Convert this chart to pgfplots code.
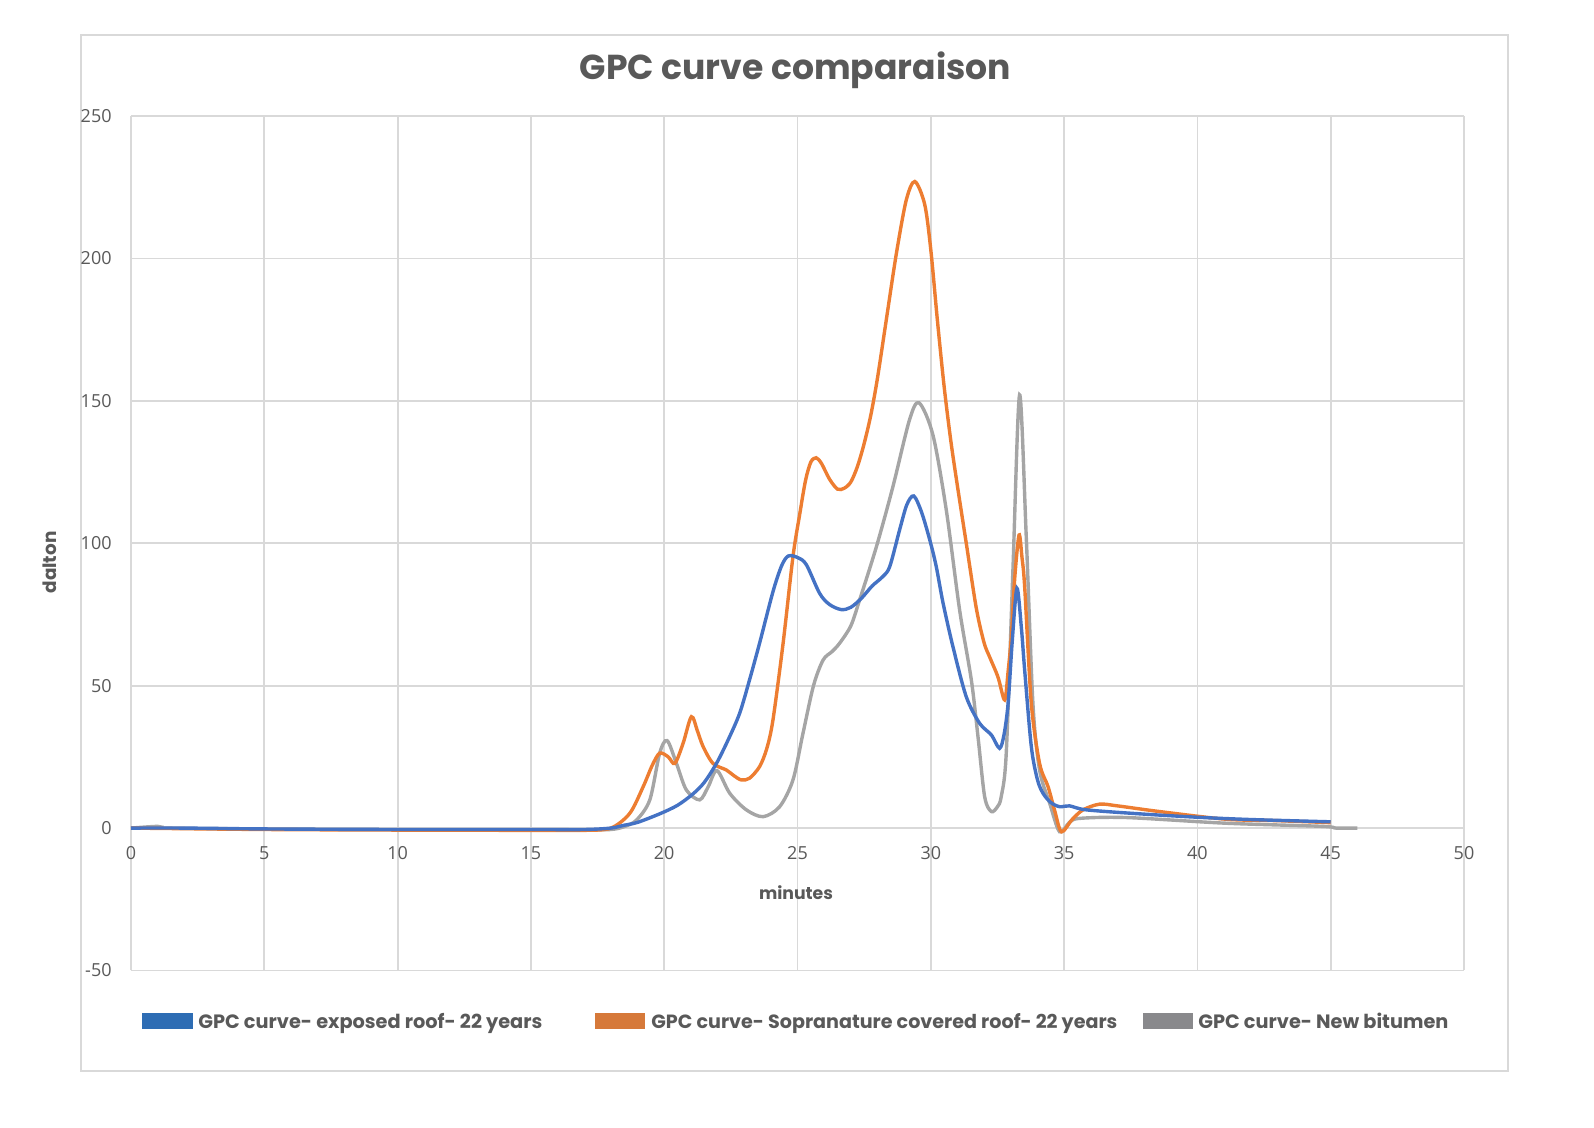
\documentclass[border=0pt]{standalone}
\usepackage{pgfplots}
\pgfplotsset{compat=1.18}
\usepackage{graphicx}
\usepackage{fontspec}
\setmainfont{Poppins}
\newfontfamily\tickfont{Open Sans}
\definecolor{cblue}{HTML}{4472C4}
\definecolor{corange}{HTML}{ED7D31}
\definecolor{cgray}{HTML}{A5A5A5}
\definecolor{lblue}{HTML}{2E6DB4}
\definecolor{lorange}{HTML}{D6793A}
\definecolor{lgray}{HTML}{89898C}
\definecolor{gridc}{HTML}{D9D9D9}
\definecolor{txt}{HTML}{595959}
\begin{document}
\begin{tikzpicture}
\path[use as bounding box] (0,0) rectangle (797pt,564pt);
\draw[gridc, line width=0.9pt] (40.4pt,28.5pt) rectangle (754pt,546.5pt);
\begin{axis}[
  at={(65.5pt,78.75pt)}, anchor=south west,
  scale only axis, width=666.5pt, height=427.25pt,
  xmin=0, xmax=50, ymin=-50, ymax=250,
  xtick={0,5,...,50}, ytick={-50,0,...,250},
  grid=major, grid style={draw=gridc, line width=0.9pt},
  axis line style={draw=none}, tick style={draw=none},
  /pgf/number format/assume math mode=true,
  ticklabel style={font=\tickfont\fontsize{9}{10}\selectfont, text=txt},
  xticklabel style={anchor=center, yshift=58.7pt},
  yticklabel style={anchor=east, inner sep=0pt, xshift=-9.5pt},
  every axis plot/.append style={line width=1.7pt, smooth, no marks},
  clip=false,
]
\addplot[cgray] coordinates {
(0,0) (1,0.6) (1.3,0) (5,-0.3) (10,-0.5) (15,-0.5) (17,-0.6) (18,-0.5) (18.5,0.5)
(18.96,2.8) (19.46,9.9) (19.83,26.3) (20.11,30.7) (20.46,22.7) (20.83,13.4)
(21.33,9.9) (21.65,14.5) (21.98,20.2) (22.46,12.2) (23.08,6.4) (23.71,4)
(24.33,7.5) (24.83,16.9) (25.2,33) (25.6,50) (25.96,59) (26.3,62) (26.58,64.9)
(27.0,71) (27.33,80.1) (27.96,98.8) (28.58,119.9) (29.2,143.3) (29.56,149.3)
(30.08,138) (30.58,111.7) (31.08,76.6) (31.52,52) (31.77,32.1) (32.02,11)
(32.27,5.8) (32.5,7.5) (32.64,11) (32.83,26.3) (33.08,90.6) (33.33,152.1)
(33.58,102.3) (33.83,43.8) (34.08,20.4) (34.46,8.7) (34.83,-1.3) (35.2,2)
(35.58,3.4) (37.33,3.7) (41.08,1.7) (44.7,0.6) (45.2,0) (46,0)
};
\addplot[corange] coordinates {
(0,0) (5,-0.5) (10,-0.7) (15,-0.8) (17,-0.8) (18,0) (18.71,5.2) (19.21,14.5)
(19.55,22) (19.83,26.3) (20.15,25) (20.4,22.7) (20.71,29.8) (21.02,39.1)
(21.25,34) (21.46,28.6) (21.83,22.7) (22.33,20.4) (22.6,18.5) (22.89,16.9)
(23.2,17.5) (23.58,21.6) (23.85,28) (24.08,38) (24.46,64.9) (24.83,95.3)
(25.08,110) (25.3,122) (25.5,128.5) (25.7,130) (25.9,128) (26.2,122.5)
(26.5,119) (26.75,119.3) (27.0,121.5) (27.25,127) (27.5,135) (27.75,145)
(28.0,158) (28.33,178.4) (28.71,201.8) (29.08,220.5) (29.4,227) (29.77,219)
(30.0,203) (30.25,178) (30.5,155) (30.75,136) (31.0,120) (31.33,100)
(31.71,77) (32.0,65) (32.21,60) (32.52,53) (32.77,45) (32.9,55) (33.02,67.2)
(33.15,88) (33.31,102.9) (33.42,95) (33.52,84.8) (33.77,43.8) (34.08,22.7)
(34.4,14.5) (34.65,6) (34.9,-1.3) (35.3,3) (35.71,6.4) (36.33,8.4) (37,7.8)
(38.58,5.8) (41.08,3.1) (43,2.6) (45,1.9)
};
\addplot[cblue] coordinates {
(0,0) (2,0) (5,-0.3) (10,-0.5) (15,-0.5) (17,-0.5) (18,0) (18.5,1) (19,2)
(19.83,5) (20.5,8) (21.08,12) (21.5,16) (21.96,22.7) (22.4,31) (22.83,40.3)
(23.2,52) (23.58,65) (24.08,83) (24.4,92) (24.65,95.5) (25.0,95) (25.33,92.5)
(25.83,82.4) (26.2,78.5) (26.64,76.7) (27.0,77.5) (27.4,80.7) (27.8,85)
(28.2,88.3) (28.46,91.8) (28.83,104.7) (29.1,113.5) (29.36,116.6) (29.65,111)
(29.96,101.2) (30.2,92) (30.46,79) (30.83,63.7) (31.33,46.1) (31.83,36.8)
(32.27,32.7) (32.58,28) (32.75,33) (32.9,43.8) (33.05,65) (33.23,84.2) (33.4,70)
(33.52,55.5) (33.77,28.6) (34.0,17) (34.21,12.2) (34.5,9) (34.83,7.5) (35.2,7.8)
(35.83,6.4) (37.83,5) (40,3.8) (42,3) (45,2.2)
};
\end{axis}
% title
\node[anchor=base, inner sep=0pt, text=txt] at (397.75pt,524pt)
  {\resizebox{215.5pt}{!}{\bfseries GPC curve comparaison}};
% axis titles
\node[anchor=base, inner sep=0pt, text=txt] at (398pt,114pt)
  {\resizebox{37pt}{!}{\bfseries minutes}};
\node[anchor=base, inner sep=0pt, rotate=90, text=txt] at (28pt,282.75pt)
  {\resizebox{31pt}{!}{\bfseries dalton}};
% legend
\fill[lblue] (71pt,49.5pt) rectangle (96.5pt,57.5pt);
\node[anchor=base west, inner sep=0pt, text=txt] at (99pt,49.5pt)
  {\resizebox{172pt}{!}{\bfseries GPC curve- exposed roof- 22 years}};
\fill[lorange] (297.5pt,49.5pt) rectangle (322.5pt,57.5pt);
\node[anchor=base west, inner sep=0pt, text=txt] at (325.5pt,49.5pt)
  {\resizebox{233pt}{!}{\bfseries GPC curve- Sopranature covered roof- 22 years}};
\fill[lgray] (571.5pt,49.5pt) rectangle (596.5pt,57.5pt);
\node[anchor=base west, inner sep=0pt, text=txt] at (599pt,49.5pt)
  {\resizebox{125pt}{!}{\bfseries GPC curve- New bitumen}};
\end{tikzpicture}
\end{document}
